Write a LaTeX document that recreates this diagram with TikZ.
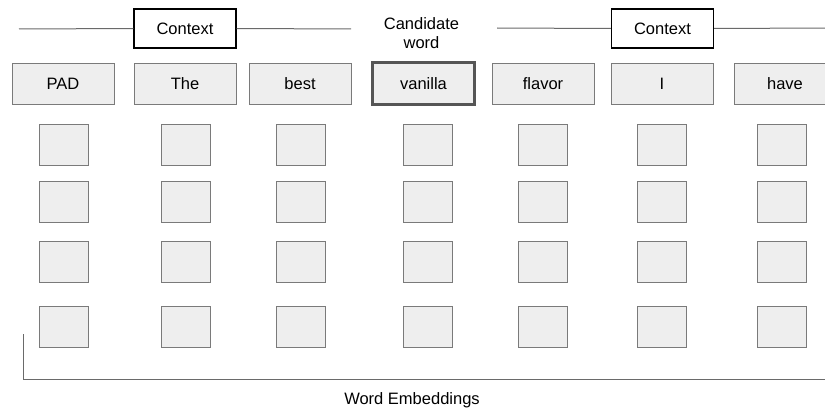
\documentclass[tikz,border=0pt]{standalone}
\usepackage{fontspec}
\setmainfont{Liberation Sans}
\usepackage{xcolor}
\usepackage{tikz}
\usetikzlibrary{positioning,calc}
\definecolor{cellfill}{HTML}{EEEEEE}
\definecolor{cellline}{HTML}{7A7A7A}
\definecolor{rulegray}{HTML}{6A6A6A}
\definecolor{candline}{HTML}{555555}

\begin{document}
\begin{tikzpicture}[
  x=1pt, y=-1pt,
  word/.style={rectangle, draw=cellline, fill=cellfill, line width=1pt,
    minimum height=40pt, minimum width=102pt, inner sep=0pt,
    font=\fontsize{16.5}{19}\selectfont},
  cand/.style={word, draw=candline, line width=2.6pt,
    minimum height=42pt, minimum width=102pt},
  ctx/.style={rectangle, draw=black, fill=white, line width=1.3pt,
    minimum height=39pt, minimum width=102pt, inner sep=0pt,
    font=\fontsize{16.5}{19}\selectfont},
  emb/.style={rectangle, draw=cellline, fill=cellfill, line width=1pt,
    minimum height=41pt, minimum width=49pt, inner sep=0pt},
  lbl/.style={font=\fontsize{16.5}{19}\selectfont, align=center, inner sep=0pt},
  rule/.style={draw=rulegray, line width=1pt}
]
\useasboundingbox (0,0) rectangle (825,412);

% context markers
\node[ctx] (ctxL) at (185,28.5) {Context};
\node[ctx] (ctxR) at (662.5,28.5) {Context};
\coordinate (ctxLa) at (19,29);
\coordinate (ctxLb) at (351,29);
\coordinate (ctxRa) at (497,28);
\coordinate (ctxRb) at (826,28);
\draw[rule] (ctxLa) -- (ctxL.west);
\draw[rule] (ctxL.east) -- (ctxLb);
\draw[rule] (ctxRa) -- (ctxR.west);
\draw[rule] (ctxR.east) -- (ctxRb);
\node[lbl] (candtxt) at (421.5,33) {Candidate\\word};

% input words
\node[word] (wPad) at (63,84) {PAD};
\node[word] (wThe) at (185,84) {The};
\node[word] (wBest) at (300,84) {best};
\node[cand] (wVanilla) at (423.5,83.5) {vanilla};
\node[word] (wFlavor) at (543,84) {flavor};
\node[word] (wI) at (662,84) {I};
\node[word] (wHave) at (785,84) {have};

% embedding cells
\foreach \c/\x in {1/63.5,2/185.5,3/300.5,4/427.5,5/543,6/662,7/781.5}
  \foreach \r/\y in {1/144.5,2/202,3/261.5,4/327}
    \node[emb] (e\c\r) at (\x,\y) {};

% bracket
\coordinate (embTop) at (23,334);
\coordinate (embCorner) at (23,379);
\coordinate (embEnd) at (826,379);
\draw[rule] (embTop) -- (embCorner) -- (embEnd);
\node[lbl] (embtxt) at (412,400) {Word Embeddings};
\end{tikzpicture}
\end{document}
